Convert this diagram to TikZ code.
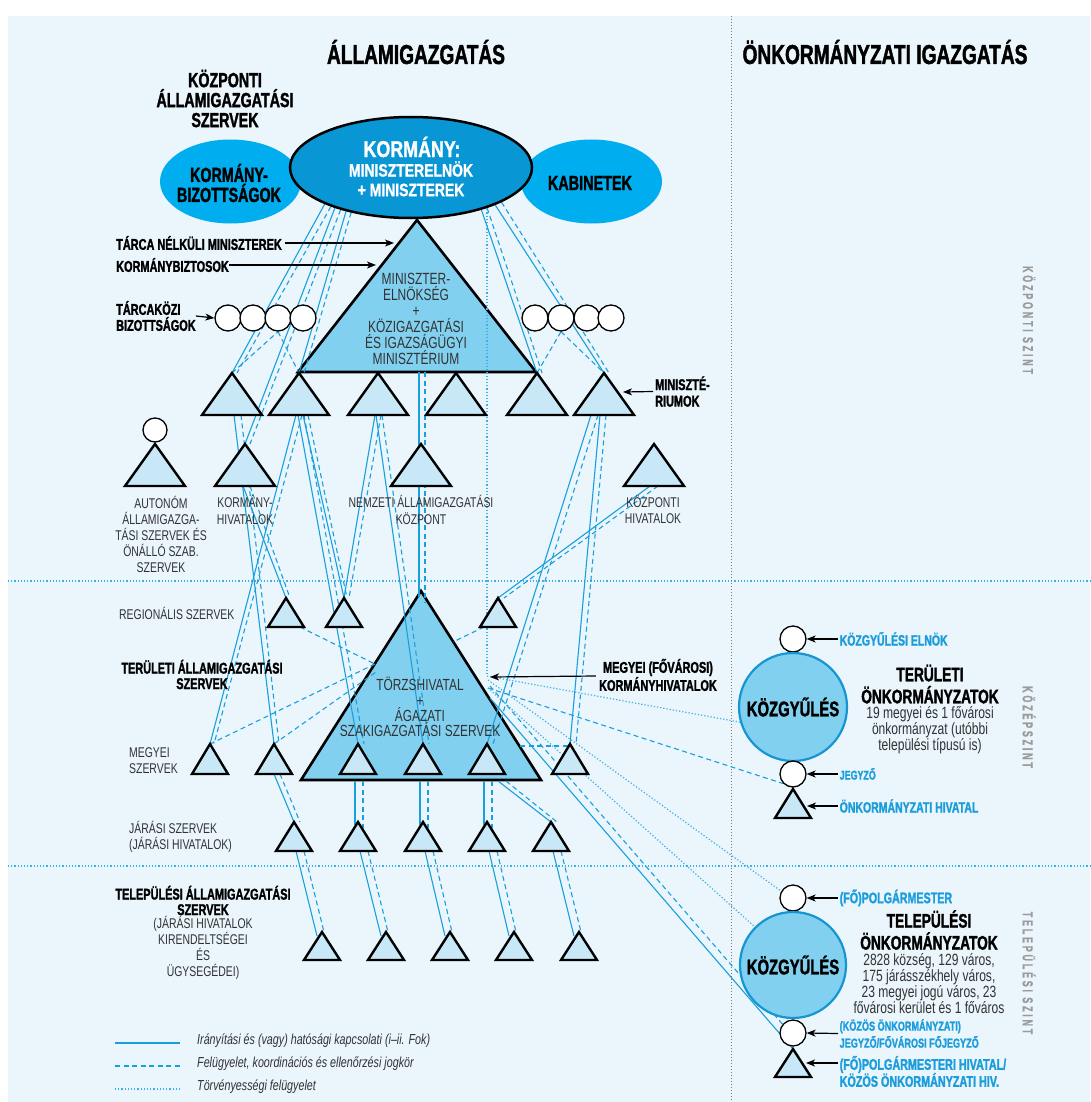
\documentclass[tikz,border=0pt]{standalone}
\usepackage{fontspec}
\setmainfont{Liberation Sans}
\newfontfamily\hb[FakeStretch=0.70, FakeBold=1.5]{Liberation Sans Bold}
\newfontfamily\hr[FakeStretch=0.74]{Liberation Sans}
\newfontfamily\hk[FakeStretch=0.78, FakeBold=1.2]{Liberation Sans Bold}
\newfontfamily\hv[FakeStretch=0.62, FakeBold=1, LetterSpace=19]{Liberation Sans Bold}
\usetikzlibrary{arrows.meta,calc,shapes.geometric}
\pgfdeclarelayer{back}
\pgfdeclarelayer{lines}
\pgfsetlayers{back,lines,main}
\definecolor{bgc}{RGB}{234,245,252}
\definecolor{linec}{RGB}{24,160,222}
\definecolor{dotc}{RGB}{60,176,230}
\definecolor{kormc}{RGB}{8,150,213}
\definecolor{sidec}{RGB}{0,174,239}
\definecolor{bigc}{RGB}{130,208,240}
\definecolor{smallc}{RGB}{200,232,248}
\definecolor{kgborder}{RGB}{21,150,210}
\definecolor{cyanc}{RGB}{27,157,219}
\definecolor{txtc}{RGB}{50,50,50}
\definecolor{vgray}{RGB}{155,155,155}
\definecolor{gridgray}{RGB}{120,120,120}
\tikzset{
  sol/.style={draw=linec, line width=1.1pt},
  dsh/.style={draw=linec, line width=1.1pt, dash pattern=on 5pt off 3.5pt},
  dtt/.style={draw=dotc, line width=1.2pt, dash pattern=on 1.2pt off 2pt},
  bigtri/.style={draw=black, line width=2.6pt, fill=bigc, line join=miter},
  smalltri/.style={draw=black, line width=2.4pt, fill=smallc, line join=miter},
  wcirc/.style={circle, draw=black, line width=1.3pt, fill=white, inner sep=0pt, minimum size=26pt},
  kgcirc/.style={circle, draw=kgborder, line width=2.2pt, fill=bigc, inner sep=0pt},
  fb/.style 2 args={font=\hb\fontsize{#1}{#2}\selectfont, inner sep=0pt},
  fr/.style 2 args={font=\hr\fontsize{#1}{#2}\selectfont, text=txtc, inner sep=0pt},
  fk/.style={font=\hk\fontsize{#1}{#1}\selectfont, text=white, inner sep=0pt},
  clbl/.style={font=\hb\fontsize{#1}{15}\selectfont, text=cyanc, inner sep=1.5pt, anchor=west, align=left},
  vlab/.style={font=\hv\fontsize{14.5}{14}\selectfont, text=vgray, rotate=-90, inner sep=0pt},
  legt/.style={font=\hr\itshape\fontsize{14.5}{14}\selectfont, text=txtc, inner sep=0pt, anchor=west},
  arr/.style={draw=black, line width=1.2pt, -{Stealth[length=9pt,width=7pt,inset=2.5pt]}},
}
\newcommand\mytri[5]{%
  \draw[smalltri] ({#2-#5},#4) -- (#2,#3) -- ({#2+#5},#4) -- cycle;
  \coordinate (#1a) at (#2,#3);
  \coordinate (#1b) at (#2,#4);}
\begin{document}
\begin{tikzpicture}[x=1pt,y=-1pt]
\useasboundingbox (0,0) rectangle (1090,1102);
\begin{pgfonlayer}{back}
  \fill[white] (0,0) rectangle (1090,1102);
  \fill[bgc] (8,16) rectangle (1090,1102);
  \draw[dtt] (8,581) -- (1090,581);
  \draw[dtt] (8,866) -- (1090,866);
  \draw[draw=gridgray, line width=1pt, dash pattern=on 1pt off 2pt] (731,16) -- (731,1102);
  \draw[bigtri] (298,372) -- (417,220) -- (536,372) -- cycle;
  \draw[bigtri] (301,780) -- (421,591) -- (541,780) -- cycle;
\end{pgfonlayer}

% ---- titles
\node[fb={27.3}{26}] (ti1) at (416,52) {ÁLLAMIGAZGATÁS};
\node[fb={27.3}{26}] (ti2) at (885,52) {ÖNKORMÁNYZATI IGAZGATÁS};
\node[fb={20.4}{20}, align=center] (ksz) at (225,98.5) {KÖZPONTI\\ÁLLAMIGAZGATÁSI\\SZERVEK};

% ---- ellipses
\node[ellipse, fill=sidec, minimum width=141pt, minimum height=84pt, inner sep=0pt] (KB) at (230.5,181.5) {};
\node[ellipse, fill=sidec, minimum width=141pt, minimum height=84pt, inner sep=0pt] (KA) at (591.5,181.5) {};
\node[ellipse, fill=kormc, draw=black, line width=2.5pt, minimum width=242pt, minimum height=101pt, inner sep=0pt] (K) at (411,167.5) {};
\node[fk=22.9] (k1) at (412,147) {KORMÁNY:};
\node[fk=17.9] (k2) at (411,169) {MINISZTERELNÖK};
\node[fk=17.9] (k3) at (411,190) {+ MINISZTEREK};
\node[fb={20.4}{20}, align=center] (kbt) at (229,183) {KORMÁNY-\\BIZOTTSÁGOK};
\node[fb={20.6}{20}] (kat) at (590,183) {KABINETEK};

% ---- big triangle texts
\node[fr={16.2}{16}, align=center] (t1txt) at (416,318.5) {MINISZTER-\\ELNÖKSÉG\\+\\KÖZIGAZGATÁSI\\ÉS IGAZSÁGÜGYI\\MINISZTÉRIUM};
\node[fr={16.1}{15.3}, align=center] (t2txt) at (420,707) {TÖRZSHIVATAL\\+\\ÁGAZATI\\SZAKIGAZGATÁSI SZERVEK};

% ---- small triangles
\mytri{m1}{232}{373}{415}{30}
\mytri{m2}{299}{373}{415}{30}
\mytri{m3}{378}{373}{415}{30}
\mytri{m4}{456}{373}{415}{30}
\mytri{m5}{537}{373}{415}{30}
\mytri{m6}{604}{373}{415}{30}
\mytri{au}{155}{444}{486}{30}
\mytri{kv}{245}{444}{486}{30}
\mytri{nk}{421}{444}{486}{30}
\mytri{kp}{654}{444}{486}{30}
\mytri{r1}{286}{598}{627}{18}
\mytri{r2}{344}{598}{627}{18}
\mytri{r3}{498}{598}{627}{18}
\mytri{g1}{210}{744}{774}{18}
\mytri{g2}{274}{744}{774}{18}
\mytri{g3}{358}{744}{774}{18}
\mytri{g4}{423}{744}{774}{18}
\mytri{g5}{487}{744}{774}{18}
\mytri{g6}{570}{744}{774}{18}
\mytri{j1}{294}{822}{851}{18}
\mytri{j2}{358}{822}{851}{18}
\mytri{j3}{423}{822}{851}{18}
\mytri{j4}{487}{822}{851}{18}
\mytri{j5}{551}{822}{851}{18}
\mytri{t1}{322}{932}{960}{18}
\mytri{t2}{386}{932}{960}{18}
\mytri{t3}{450}{932}{960}{18}
\mytri{t4}{514}{932}{960}{18}
\mytri{t5}{579}{932}{960}{18}
\mytri{h1}{793}{789}{818}{18}
\mytri{h2}{793}{1049}{1077}{18}

% ---- circles
\node[wcirc] (c1) at (228,318) {};
\node[wcirc] (c2) at (253,318) {};
\node[wcirc] (c3) at (278,318) {};
\node[wcirc] (c4) at (303,318) {};
\node[wcirc] (c5) at (535,318) {};
\node[wcirc] (c6) at (561,318) {};
\node[wcirc] (c7) at (587,318) {};
\node[wcirc] (c8) at (611,318) {};
\node[wcirc, minimum size=24pt] (ac) at (155,430) {};
\node[wcirc] (pe) at (793,639) {};
\node[kgcirc, minimum size=108pt] (kg1) at (793,707) {};
\node[wcirc] (jg1) at (793,774) {};
\node[wcirc] (pm) at (793,898) {};
\node[kgcirc, minimum size=106pt] (kg2) at (793,965) {};
\node[wcirc] (jg2) at (793,1033) {};
\node[fb={21.2}{20}] (kg1t) at (kg1) {KÖZGYŰLÉS};
\node[fb={21.2}{20}] (kg2t) at (kg2) {KÖZGYŰLÉS};

% ---- left labels
\node[fb={15.6}{15}, anchor=west] (tn) at (116,243) {TÁRCA NÉLKÜLI MINISZTEREK};
\node[fb={15.6}{15}, anchor=west] (kbz) at (116,265) {KORMÁNYBIZTOSOK};
\node[fb={15.6}{16}, anchor=west, align=left] (tk) at (116,316) {TÁRCAKÖZI\\BIZOTTSÁGOK};
\node[fb={15.6}{16.5}, anchor=west, align=left] (mr) at (655,391.5) {MINISZTÉ-\\RIUMOK};
\node[fb={15.6}{16}, align=center] (mf) at (658,675) {MEGYEI (FŐVÁROSI)\\KORMÁNYHIVATALOK};
\node[fb={15.6}{15.5}, align=center] (tas) at (202,674.5) {TERÜLETI ÁLLAMIGAZGATÁSI\\SZERVEK};
\node[fb={15.6}{15.5}, align=center] (tls) at (203,900.5) {TELEPÜLÉSI ÁLLAMIGAZGATÁSI\\SZERVEK};
\node[fr={14.1}{16}, align=center] (tlr) at (203,948) {(JÁRÁSI HIVATALOK\\KIRENDELTSÉGEI\\ÉS\\ÜGYSEGÉDEI)};
\node[fr={14.1}{16.2}, align=center] (aul) at (161,534.5) {AUTONÓM\\ÁLLAMIGAZGA-\\TÁSI SZERVEK ÉS\\ÖNÁLLÓ SZAB.\\SZERVEK};
\node[fr={14.1}{16.2}, align=center] (kvl) at (245,510) {KORMÁNY-\\HIVATALOK};
\node[fr={14.1}{16.2}, align=center] (nkl) at (421,510) {NEMZETI ÁLLAMIGAZGATÁSI\\KÖZPONT};
\node[fr={14.1}{16.2}, align=center] (kpl) at (653,510) {KÖZPONTI\\HIVATALOK};
\node[fr={14.1}{16}, anchor=west] (regl) at (119,613) {REGIONÁLIS SZERVEK};
\node[fr={14.1}{15.5}, anchor=west, align=left] (megl) at (129,760.5) {MEGYEI\\SZERVEK};
\node[fr={14.1}{16}, anchor=west, align=left] (jarl) at (129,837) {JÁRÁSI SZERVEK\\(JÁRÁSI HIVATALOK)};

% ---- arrows (left/centre)
\coordinate (tnend) at (394,243);
\coordinate (kbzend) at (376,265);
\coordinate (mrend) at (623,392);
\coordinate (kh) at (487,676);
\draw[arr] (tn.east) ++(3,0) -- (tnend);
\draw[arr] (kbz.east) -- (kbzend);
\draw[arr] (tk.east) -- (c1.west);
\draw[arr] (mr.west) ++(-2,0) -- (mrend);
\draw[arr] (mf.west) ++(-3,1) -- ($(kh)+(3,1)$);

% ---- right side texts
\node[fb={19.6}{22}, align=center] (trt) at (930,684) {TERÜLETI\\ÖNKORMÁNYZATOK};
\node[fr={16.3}{16}, align=center] (trd) at (930,730) {19 megyei és 1 fővárosi\\önkormányzat (utóbbi\\települési típusú is)};
\node[fb={19.6}{22}, align=center] (tst) at (929,930) {TELEPÜLÉSI\\ÖNKORMÁNYZATOK};
\node[fr={16.3}{16}, align=center] (tsd) at (929,984) {2828 község, 129 város,\\175 járásszékhely város,\\23 megyei jogú város, 23\\fővárosi kerület és 1 főváros};
\node[clbl=15] (l1) at (838,639) {KÖZGYŰLÉSI ELNÖK};
\node[clbl=12.7] (l2) at (838,774) {JEGYZŐ};
\node[clbl=15] (l3) at (838,806) {ÖNKORMÁNYZATI HIVATAL};
\node[clbl=15.3] (l4) at (838,898) {(FŐ)POLGÁRMESTER};
\node[font=\hb\fontsize{13}{17}\selectfont, text=cyanc, inner sep=1.5pt, anchor=west, align=left] (l5) at (838,1033.5) {(KÖZÖS ÖNKORMÁNYZATI)\\JEGYZŐ/FŐVÁROSI FŐJEGYZŐ};
\node[font=\hb\fontsize{15.4}{17}\selectfont, text=cyanc, inner sep=1.5pt, anchor=west, align=left] (l6) at (838,1071.5) {(FŐ)POLGÁRMESTERI HIVATAL/\\KÖZÖS ÖNKORMÁNYZATI HIV.};
\coordinate (h1e) at (807,806);
\coordinate (h2e) at (806,1063);
\draw[arr] (l1.west) -- (pe.east);
\draw[arr] (l2.west) -- (jg1.east);
\draw[arr] (l3.west) -- (h1e);
\draw[arr] (l4.west) -- (pm.east);
\draw[arr] (l5.west) -- (jg2.east);
\draw[arr] (l6.west |- h2e) -- (h2e);

% ---- vertical level labels
\node[vlab] (vs1) at (1029,320) {KÖZPONTI SZINT};
\node[vlab] (vs2) at (1029,727) {KÖZÉPSZINT};
\node[vlab] (vs3) at (1029,973) {TELEPÜLÉSI SZINT};

% ---- legend
\coordinate (lg1s) at (115,1043); \coordinate (lg1e) at (180,1043);
\coordinate (lg2s) at (115,1066); \coordinate (lg2e) at (180,1066);
\coordinate (lg3s) at (115,1089); \coordinate (lg3e) at (180,1089);
\draw[sol, line width=2pt] (lg1s) -- (lg1e);
\draw[dsh, line width=1.6pt] (lg2s) -- (lg2e);
\draw[dtt] (lg3s) -- (lg3e);
\node[legt] (lt1) at (197,1041) {Irányítási és (vagy) hatósági kapcsolati (i–ii. Fok)};
\node[legt] (lt2) at (197,1064) {Felügyelet, koordinációs és ellenőrzési jogkör};
\node[legt] (lt3) at (197,1087) {Törvényességi felügyelet};

% ---- connectors
\begin{pgfonlayer}{lines}
  % Kormany -> ministries
  \draw[sol] (K.203) -- (m1a);
  \draw[dsh] (K.206) -- ($(m1a)+(5,0)$);
  \draw[sol] (K.208) -- (kva);
  \draw[dsh] (K.211) -- ($(kva)+(5,0)$);
  \draw[sol] (K.214) -- (m2a);
  \draw[dsh] (K.217) -- ($(m2a)+(5,0)$);
  \draw[sol] (K.329) -- (m5a);
  \draw[dsh] (K.332) -- ($(m5a)+(5,0)$);
  \draw[sol] (K.336) -- (m6a);
  \draw[dsh] (K.339) -- ($(m6a)+(5,0)$);
  % interministerial committees
  \draw[dsh] (m1a) -- (c3.south);
  \draw[dsh] (c3.south) -- (m2a);
  \draw[dsh] (m5a) -- (c6.south);
  \draw[dsh] (c6.south) -- (m6a);
  % ministries -> lower levels
  \draw[sol] ($(m1b)+(2,0)$) -- (g2a);
  \draw[dsh] ($(m1b)+(9,0)$) -- ($(g2a)+(5,0)$);
  \draw[sol] ($(m2b)+(-3,0)$) -- (g1a);
  \draw[dsh] ($(m2b)+(3,0)$) -- ($(g1a)+(4,0)$);
  \draw[sol] ($(m2b)+(4,0)$) -- (r2a);
  \draw[dsh] ($(m2b)+(9,0)$) -- ($(r2a)+(3,0)$);
  \draw[sol] ($(m2b)+(-1,0)$) -- (g3a);
  \draw[dsh] ($(m2b)+(5,0)$) -- ($(g3a)+(6,0)$);
  \draw[sol] ($(m3b)+(-3,0)$) -- (r2a);
  \draw[dsh] ($(m3b)+(3,0)$) -- ($(r2a)+(5,0)$);
  \draw[sol] ($(m3b)+(-2,0)$) -- (g4a);
  \draw[dsh] ($(m3b)+(4,0)$) -- ($(g4a)+(6,0)$);
  \draw[sol] ($(kvb)+(-2,0)$) -- (r1a);
  \draw[dsh] ($(kvb)+(5,0)$) -- ($(r1a)+(4,0)$);
  \coordinate (t1v) at (419,372);
  \coordinate (t2v) at (419,597);
  \draw[sol] (t1v) -- (t2v);
  \draw[dsh] ($(t1v)+(6,0)$) -- ($(t2v)+(6,6)$);
  \draw[sol] ($(m6b)+(-4,0)$) -- (g6a);
  \draw[dsh] ($(m6b)+(2,0)$) -- ($(g6a)+(6,0)$);
  \draw[sol] ($(m6b)+(-13,0)$) -- (g5a);
  \draw[dsh] ($(m6b)+(-6,0)$) -- ($(g5a)+(6,0)$);
  \draw[sol] ($(kpb)+(-4,0)$) -- (r3a);
  \draw[dsh] ($(kpb)+(4,0)$) -- ($(r3a)+(6,0)$);
  % regional / county -> office
  \coordinate (t2l) at (375,664);
  \coordinate (t2r) at (453,642);
  \coordinate (t2h) at (520,746);
  \draw[dsh] ($(r1b)+(14,0)$) -- (t2l);
  \draw[dsh] (g1a) -- (t2l);
  \draw[dsh] (g2a) -- ($(t2l)+(1,8)$);
  \draw[dsh] ($(r3b)+(-14,0)$) -- (t2r);
  \draw[dsh] (t2h) -- (g6a |- t2h);
  % office -> districts
  \draw[sol] ($(g3b)+(-3,7)$) -- ($(j2a)+(-3,3)$);
  \draw[dsh] ($(g3b)+(5,7)$) -- ($(j2a)+(5,6)$);
  \draw[sol] ($(g4b)+(-3,7)$) -- ($(j3a)+(-3,3)$);
  \draw[dsh] ($(g4b)+(5,7)$) -- ($(j3a)+(5,6)$);
  \draw[sol] ($(g5b)+(-3,7)$) -- ($(j4a)+(-3,3)$);
  \draw[dsh] ($(g5b)+(5,7)$) -- ($(j4a)+(5,6)$);
  \draw[sol] (g2b) -- (j1a);
  \draw[dsh] ($(g2b)+(6,0)$) -- ($(j1a)+(6,0)$);
  \coordinate (t2br) at (498,781);
  \draw[sol] (t2br) -- (j5a);
  \draw[dsh] ($(t2br)+(8,0)$) -- ($(j5a)+(6,0)$);
  % districts -> settlements
  \foreach \i in {1,...,5}{
    \draw[sol] ($(j\i b)+(2,0)$) -- ($(t\i a)+(-5,4)$);
    \draw[dsh] ($(j\i b)+(10,0)$) -- ($(t\i a)+(2,0)$);
  }
  % legality supervision and county office fan
  \draw[dtt] (kh |- K.330) -- (kh);
  \coordinate (t2e) at (490,698);
  \draw[dtt] (kh) -- (kg1.196);
  \draw[dsh] ($(kh)+(1,12)$) -- (jg1.225);
  \draw[dtt] ($(kh)+(1,4)$) -- (pm.150);
  \draw[dtt] ($(kh)+(1,12)$) -- (kg2.135);
  \draw[dsh] ($(kh)+(3,10)$) -- (jg2.140);
  \draw[sol] (t2e) -- (h2a);
\end{pgfonlayer}
\end{tikzpicture}
\end{document}
